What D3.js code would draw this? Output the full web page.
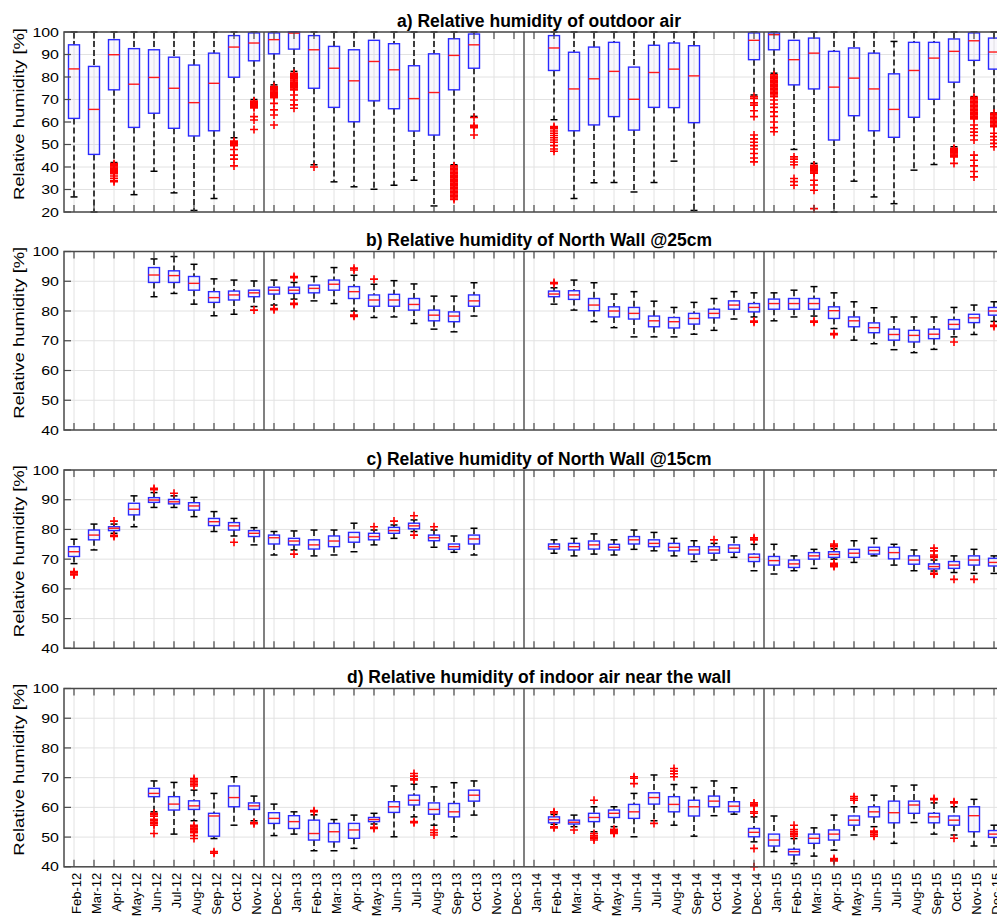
<!DOCTYPE html>
<html><head><meta charset="utf-8">
<script src="https://cdn.jsdelivr.net/npm/d3@7"></script>
<style>body{margin:0;background:#fff} svg{display:block} text{font-family:"Liberation Sans",Arial,Helvetica,sans-serif;fill:#000}</style>
</head><body><svg id="chart" width="997" height="923"></svg>
<script>
// ---------- categories & tick labels ----------
const months = ["Feb-12","Mar-12","Apr-12","May-12","Jun-12","Jul-12","Aug-12","Sep-12","Oct-12","Nov-12","Dec-12",
  "Jan-13","Feb-13","Mar-13","Apr-13","May-13","Jun-13","Jul-13","Aug-13","Sep-13","Oct-13","Nov-13","Dec-13",
  "Jan-14","Feb-14","Mar-14","Apr-14","May-14","Jun-14","Jul-14","Aug-14","Sep-14","Oct-14","Nov-14","Dec-14",
  "Jan-15","Feb-15","Mar-15","Apr-15","May-15","Jun-15","Jul-15","Aug-15","Sep-15","Oct-15","Nov-15","Dec-15"];
const separators = ["Dec-12","Jan-14","Jan-15"];
const titles = ["a) Relative humidity of outdoor air","b) Relative humidity of North Wall @25cm",
  "c) Relative humidity of North Wall @15cm","d) Relative humidity of indoor air near the wall"];
const yLabel = "Relative humidity [%]";
const yTicksOutdoor = [20,30,40,50,60,70,80,90,100];
const yTicksWall = [40,50,60,70,80,90,100];

// ---------- series: [lower whisker, Q1, median, Q3, upper whisker] ----------
const outdoorStats = {
 "Feb-12":[26.7,61.6,83.6,94.3,100],"Mar-12":[20,45.6,65.6,84.7,100],"Apr-12":[42,74.3,89.9,96.6,100],
 "May-12":[27.7,57.6,76.8,92.6,100],"Jun-12":[38.1,63.9,79.8,92.1,100],"Jul-12":[28.5,57.2,75.0,88.8,100],
 "Aug-12":[20.7,53.8,68.6,85.3,100],"Sep-12":[26.0,56.1,77.2,90.6,100],"Oct-12":[53,79.9,93.3,98.4,100],
 "Nov-12":[70,87.2,95.1,99.6,100],"Dec-12":[76.5,90.3,96.6,99.6,100],"Jan-13":[82.5,92.4,99.5,100,100],
 "Feb-13":[41,75.0,92.1,98.4,100],"Mar-13":[33.4,66.5,83.9,93.6,100],"Apr-13":[31.2,60.1,78.3,92.1,100],
 "May-13":[30.1,69.4,86.9,96.3,100],"Jun-13":[31.9,65.9,83.2,94.8,100],"Jul-13":[34.1,56.0,70.4,85.0,100],
 "Aug-13":[22.7,54.2,73.1,90.3,100],"Sep-13":[41,74.3,89.6,97.0,100],"Oct-13":[62.5,83.9,94.3,99.1,100],
 "Feb-14":[61,82.9,92.9,98.4,100],"Mar-14":[26,56.1,74.7,91.0,100],"Apr-14":[33,58.7,79.2,93.3,100],
 "May-14":[33.1,62.4,82.5,95.4,100],"Jun-14":[28.9,56.4,70.1,84.4,100],"Jul-14":[33.1,66.5,82.0,94.1,100],
 "Aug-14":[42.6,66.4,83.5,95.1,100],"Sep-14":[20.7,59.7,80.5,93.9,100],"Dec-14":[72,87.7,96.3,99.6,100],
 "Jan-15":[81.7,92.1,98.8,99.6,100],"Feb-15":[47.8,76.5,87.7,96.3,100],"Mar-15":[41.6,74.7,90.6,97.3,100],
 "Apr-15":[20,52.0,75.5,91.4,100],"May-15":[33.7,62.8,79.5,92.9,100],"Jun-15":[26.7,56.1,74.7,90.6,100],
 "Jul-15":[23.7,53.2,65.6,81.4,95.8],"Aug-15":[38.6,62.1,82.9,95.4,100],"Sep-15":[41.1,70.1,88.4,95.4,100],
 "Oct-15":[49,77.7,91.4,96.9,100],"Nov-15":[71.3,87.4,96.1,99.6,100],"Dec-15":[64,83.5,91.1,97.3,100]
};
const outdoorOutliers = {
 "Apr-12":[41.5,41,40.5,40,39.5,39,38.5,38,37.5,37,36,35,34,33.5],
 "Oct-12":[51.5,51,50.5,50,49.5,47.8,45.3,43.5,40.5],
 "Nov-12":[69.3,68.8,68.3,67.8,67.3,66.8,66.3,62.4,60.9,56.7],
 "Dec-12":[75.8,75.3,74.8,74.3,73.8,73.3,72.8,72.3,71.8,71.3,70.8,68.3,65.4,63.1,58.7],
 "Jan-13":[81.7,81.2,80.7,80.2,79.7,79.2,78.7,78.2,77.7,77.2,76.7,76.2,75.7,75.2,74.7,74.3,72.0,69.8,67.6,66.1],
 "Feb-13":[40],
 "Sep-13":[40.5,40,39.4,38.8,38.2,37.6,37,36.4,35.8,35.2,34.6,34,33.4,32.8,32.2,31.6,31,30.4,29.8,29.2,28.6,28,27.4,26.8,26.2,25.6],
 "Oct-13":[62,58.5,58,57.5,54.2],
 "Feb-14":[58,57.5,57,56,55,54,53,52,51,49.5,48,47],
 "Dec-14":[71.3,70.5,68.5,67.5,65,62.4,54.2,52.5,51,49.5,48,46,44,42.3],
 "Jan-15":[81,80.4,79.8,79.2,78.6,78,77.4,76.8,76.2,75.6,75,74.4,73.8,73.2,72.6,72,71.3,69.8,68,66.5,64.5,62.5,60,57.5,55.7],
 "Feb-15":[44.5,43.5,42.2,41,34.9,33.5,31.9],
 "Mar-15":[40.8,40.3,39.8,39.3,38.8,38.3,37.8,37.3,34.1,32,29.7,21.5],
 "Oct-15":[48.3,47.8,47.3,46.8,46.3,45.8,45.3,44.5,41.6],
 "Nov-15":[71,70.4,69.8,69.2,68.6,68,67.4,66.8,66.2,65.6,65,64.4,63.8,63.2,62.6,62,61.4,58.7,57,55.5,54,52,45.3,43,40.5,38,35.6],
 "Dec-15":[63.9,63.3,62.7,62.1,61.5,60.9,60.3,59.7,59.1,58.5,57.9,55,53.5,52,50.5,49]
};

const wall25Stats = {
 "Jun-12":[84.8,89.6,92.1,94.6,97.5],"Jul-12":[85.9,89.6,91.9,93.5,98.3],"Aug-12":[82.3,87.0,89.3,91.6,95.7],
 "Sep-12":[78.4,82.9,84.5,86.5,90.8],"Oct-12":[78.9,83.7,85.4,86.7,90.4],"Nov-12":[81.5,84.8,86.1,87.0,90.1],
 "Dec-12":[82,85.7,87.0,88.0,90.4],"Jan-13":[84,85.9,87.0,88.0,89.6],"Feb-13":[83.4,86.1,87.6,88.7,91.6],
 "Mar-13":[82.5,87.0,89.0,90.4,94.6],"Apr-13":[80,84.2,86.5,88.2,92],"May-13":[77.8,81.6,83.7,85.4,89],
 "Jun-13":[78.0,81.6,83.7,85.6,90.2],"Jul-13":[75.8,80.3,82.2,84.2,89.1],"Aug-13":[73.9,76.7,78.6,80.3,85.0],
 "Sep-13":[73.0,76.4,78.3,79.7,85.0],"Oct-13":[78.3,81.6,83.4,85.4,89.5],
 "Feb-14":[82.3,84.8,85.7,86.7,87.8],"Mar-14":[80.3,83.9,85.4,86.8,90.4],"Apr-14":[76.4,80.1,82.0,84.2,89.5],
 "May-14":[74.4,78.0,80.0,81.4,85.7],"Jun-14":[71.3,77.3,79.2,81.2,86.5],"Jul-14":[71.3,74.7,76.7,78.3,83.3],
 "Aug-14":[71.3,74.3,76.4,77.8,81.2],"Sep-14":[72.2,75.6,77.5,79.2,82.9],"Oct-14":[73.5,77.7,79.2,80.6,84.2],
 "Nov-14":[77.3,80.6,82.0,83.4,86.5],"Dec-14":[78.0,79.7,81.2,82.5,86.1],"Jan-15":[76.7,80.6,82.5,84.0,86.1],
 "Feb-15":[78.0,80.6,82.5,84.2,87.0],"Mar-15":[78.3,80.6,82.5,84.2,88.2],"Apr-15":[74.1,77.5,80.1,81.4,86.1],
 "May-15":[70.2,74.7,76.7,78.0,83.1],"Jun-15":[69.0,72.7,74.4,76.0,81.1],"Jul-15":[67.0,70.2,72.1,73.9,78.0],
 "Aug-15":[66.0,69.6,71.8,73.5,78.0],"Sep-15":[67.1,70.7,72.2,73.9,78.0],"Oct-15":[71.3,73.9,75.5,77.1,81.2],
 "Nov-15":[72.1,76.1,77.7,78.9,82.0],"Dec-15":[76.5,78.6,80.0,81.2,83.1]
};
const wall25Outliers = {
 "Nov-12":[80.3],"Dec-12":[80.8,80.4],"Jan-13":[91.6,91.2,82.6,82.2],"Apr-13":[94.4,93.8,78.6,78.2],
 "May-13":[90.7],"Feb-14":[89.6,89.2],"Dec-14":[76.6,76.2],"Mar-15":[76.6,76.2],"Apr-15":[72.4,72.0],
 "Oct-15":[69.6],"Dec-15":[75.2,74.8]
};

const wall15Stats = {
 "Feb-12":[68.5,70.9,72.5,74.2,76.7],"Mar-12":[73.1,76.5,78.1,79.8,81.8],"Apr-12":[78.7,79.6,80.4,80.9,81.8],
 "May-12":[80.9,84.9,86.8,88.8,91.3],"Jun-12":[87.4,89.1,89.9,90.7,92.4],"Jul-12":[87.4,88.6,89.3,90.1,91.3],
 "Aug-12":[84.3,86.5,87.9,89.0,90.8],"Sep-12":[79.3,81.3,82.6,83.7,86.0],"Oct-12":[77.8,79.8,81.2,82.3,83.7],
 "Nov-12":[74.8,77.6,78.7,79.6,80.6],"Dec-12":[71.4,75.1,77.2,78.1,79.3],"Jan-13":[73.1,74.8,76.1,77.0,79.5],
 "Feb-13":[71.1,73.4,74.8,76.5,79.8],"Mar-13":[71.4,74.2,76.1,77.8,79.8],"Apr-13":[72.5,75.7,77.4,79.0,82.1],
 "May-13":[74.8,76.5,77.6,78.7,79.8],"Jun-13":[77.0,78.7,79.6,80.7,81.5],"Jul-13":[79.3,80.2,81.2,82.1,83.2],
 "Aug-13":[74.0,76.2,77.2,78.1,79.8],"Sep-13":[72.3,73.3,74.2,75.1,77.8],"Oct-13":[71.4,75.1,76.8,78.1,80.4],
 "Feb-14":[72.0,73.4,74.2,75.1,76.5],"Mar-14":[71.1,73.1,74.2,75.3,77.0],"Apr-14":[71.7,73.4,74.8,76.1,78.5],
 "May-14":[71.4,73.1,74.0,75.0,76.5],"Jun-14":[73.3,75.1,76.5,77.6,79.8],"Jul-14":[72.8,74.2,75.3,76.5,79.0],
 "Aug-14":[71.1,72.8,74.0,75.3,77.0],"Sep-14":[69.2,71.7,73.1,74.2,76.2],"Oct-14":[69.7,72.0,73.1,74.2,75.3],
 "Nov-14":[70.6,72.3,73.7,74.8,77.4],"Dec-14":[66.1,69.2,70.6,71.7,75.0],"Jan-15":[65.0,68.0,69.5,70.9,75.0],
 "Feb-15":[66.1,67.2,68.4,69.7,71.1],"Mar-15":[66.9,70.0,71.1,72.2,73.3],"Apr-15":[70.0,70.6,71.6,72.5,73.5],
 "May-15":[68.9,70.6,72.0,73.3,76.2],"Jun-15":[71.1,71.7,72.9,74.0,77.0],"Jul-15":[68.0,70.1,72.2,74.0,75.0],
 "Aug-15":[66.1,68.3,69.7,71.1,73.1],"Sep-15":[66.0,66.7,67.5,68.4,69.7],"Oct-15":[65.5,66.9,68.0,69.2,71.1],
 "Nov-15":[65.2,68.0,69.7,71.1,73.3],"Dec-15":[65.2,67.7,68.9,70.3,71.1]
};
const wall15Outliers = {
 "Feb-12":[65.8,65.4,65,64.7],"Apr-12":[82.8,78,77.6],"Jun-12":[93.8,93.4],"Jul-12":[92.2],"Oct-12":[75.7],
 "Jan-13":[71.7],"May-13":[80.9],"Jun-13":[82.8],"Jul-13":[84.6,78.1],"Aug-13":[80.9],"Oct-14":[76.5],
 "Dec-14":[77.2,76.8,76.5],"Apr-15":[75.1,74.7,74.2,68.6,68.2,67.8,67.5],
 "Sep-15":[73.7,72.8,71.4,71.0,70.6,65.2,64.9],"Oct-15":[63.2],"Nov-15":[63.2]
};

const indoorStats = {
 "Jun-12":[58.5,63.6,64.7,66.4,68.9],"Jul-12":[51.0,59.1,61.1,63.6,68.4],"Aug-12":[55.5,59.3,60.5,62.2,65.8],
 "Sep-12":[49.5,50.3,57.1,58.0,64.7],"Oct-12":[54,60.2,63.3,67.2,70.3],"Nov-12":[55.5,59.3,60.5,61.5,63.8],
 "Dec-12":[50.5,54.6,56.3,58.2,61.1],"Jan-13":[51.0,52.9,55.2,57.2,58.5],"Feb-13":[45.4,49.0,51.2,55.7,57.5],
 "Mar-13":[45.4,48.4,51.8,54.6,55.9],"Apr-13":[46.2,49.6,52.4,54.6,57.4],"May-13":[54.4,55.2,55.9,56.6,58.0],
 "Jun-13":[50.1,58.3,60.2,61.9,67.2],"Jul-13":[56.8,60.8,62.4,64.1,67.8],"Aug-13":[54.0,57.7,59.3,61.5,66.9],
 "Sep-13":[50.1,56.8,58.5,61.3,68.3],"Oct-13":[57.4,62.1,64.1,65.8,68.9],
 "Feb-14":[54.3,54.8,55.9,56.8,57.6],"Mar-14":[53.5,54.4,55.0,55.7,57.4],"Apr-14":[51.8,55.2,56.6,58.0,60.2],
 "May-14":[53.5,56.6,58.0,59.1,60.2],"Jun-14":[50.1,56.3,58.5,61.0,64.7],"Jul-14":[55.5,61.1,63.3,64.9,70.9],
 "Aug-14":[54.0,58.5,61.0,63.6,67.7],"Sep-14":[50.3,57.1,60.2,62.4,66.7],"Oct-14":[57.2,60.2,62.1,63.8,68.9],
 "Nov-14":[57.7,58.5,60.4,61.9,66.6],"Dec-14":[48.4,50.1,51.6,52.9,56.8],"Jan-15":[45.1,47.0,49.0,51.0,57.1],
 "Feb-15":[41.1,44.0,45.1,45.9,49.5],"Mar-15":[43.6,47.9,49.6,51.0,53.1],"Apr-15":[45.6,49.0,51.0,52.4,57.4],
 "May-15":[50.7,54.0,55.7,57.1,60.2],"Jun-15":[53.5,56.8,58.5,60.2,64.1],"Jul-15":[47.9,54.8,58.2,62.1,67.2],
 "Aug-15":[54.9,58.0,60.8,62.1,67.5],"Sep-15":[51.0,54.8,56.8,58.0,61.5],"Oct-15":[50.7,54.0,55.7,57.1,60.2],
 "Nov-15":[47.0,51.8,57.2,60.2,62.7],"Dec-15":[47.0,49.9,51.0,52.2,54.0]
};
const indoorOutliers = {
 "Jun-12":[58,57.5,57,56,55.5,55,54.5,54,51.2],
 "Aug-12":[69.7,69.2,68.7,68.2,67.7,67.2,54,53.5,53,52.5,52,51.5,50.5,49.5],
 "Sep-12":[45.1,44.6],"Nov-12":[54.9,54.5],"Feb-13":[58.9,58.5],"May-13":[53.3,52.9],
 "Jul-13":[71.4,70.5,69.6,69.2,55.2,54.8],"Aug-13":[52.4,51.5,50.7],
 "Feb-14":[58.5,58.1,53.5,53.1],"Mar-14":[52.4],"Apr-14":[62.4,51.2,50.5,50,49.5,49.0],
 "May-14":[52.6,52.2,51.8,51.4,51.2],"Jun-14":[70.3,69.8,68.0],"Jul-14":[54.6],"Aug-14":[73.1,72.2,71.3,70.3],
 "Dec-14":[61.5,61,60.5,58.5,58,46.2,40],"Feb-15":[54.0,52.5,51.8,51.3,50.8,50.3],"Apr-15":[42.8,42.4,42.0],
 "May-15":[63.6,63.0,62.4],"Jun-15":[52.0,51.4,50.8,50.3],"Sep-15":[63.0,62.6],"Oct-15":[61.9,61.5,49.6]
};

// ---------- drawing ----------
const svg = d3.select("#chart");
const W = 997, H = 923;
const plotLeft = 64, bandRight = 1004, frameRight = 1014;
const panelGeom = [{top:32,h:180},{top:251.5,h:178.5},{top:470,h:178.3},{top:688.5,h:178.3}];
const panels = [
  {title:titles[0], domain:[20,100], ticks:yTicksOutdoor, stats:outdoorStats, out:outdoorOutliers},
  {title:titles[1], domain:[40,100], ticks:yTicksWall, stats:wall25Stats, out:wall25Outliers},
  {title:titles[2], domain:[40,100], ticks:yTicksWall, stats:wall15Stats, out:wall15Outliers},
  {title:titles[3], domain:[40,100], ticks:yTicksWall, stats:indoorStats, out:indoorOutliers}
];
svg.append("rect").attr("width",W).attr("height",H).attr("fill","#fff");

const x = d3.scaleBand().domain(months).range([plotLeft, bandRight]);
const xc = m => x(m) + x.bandwidth()/2;
const boxW = 11, capW = 7, tickLen = 7;
const axisColor = "#4a4a4a";

panels.forEach((p, pi) => {
  const g = panelGeom[pi];
  const top = g.top, bottom = g.top + g.h;
  const y = d3.scaleLinear().domain(p.domain).range([bottom, top]);
  const G = svg.append("g");

  // grid
  G.selectAll(".hg").data(p.ticks).join("line")
    .attr("x1",plotLeft).attr("x2",frameRight).attr("y1",d=>y(d)).attr("y2",d=>y(d))
    .attr("stroke","#e2e2e2").attr("stroke-width",1);
  G.selectAll(".vg").data(months).join("line")
    .attr("x1",d=>xc(d)).attr("x2",d=>xc(d)).attr("y1",top).attr("y2",bottom)
    .attr("stroke","#e2e2e2").attr("stroke-width",1);

  // separators
  G.selectAll(".sep").data(separators).join("line")
    .attr("x1",d=>x(d)).attr("x2",d=>x(d)).attr("y1",top).attr("y2",bottom)
    .attr("stroke","#808080").attr("stroke-width",2);

  const entries = months.filter(m => p.stats[m]).map(m => ({m, s:p.stats[m]}));

  // whiskers
  const wg = G.append("g");
  entries.forEach(({m,s}) => {
    const cx = xc(m);
    wg.append("line").attr("x1",cx).attr("x2",cx).attr("y1",y(s[4])).attr("y2",y(s[3]))
      .attr("stroke","#000").attr("stroke-width",1.5).attr("stroke-dasharray","6,3");
    wg.append("line").attr("x1",cx).attr("x2",cx).attr("y1",y(s[1])).attr("y2",y(s[0]))
      .attr("stroke","#000").attr("stroke-width",1.5).attr("stroke-dasharray","6,3");
    [s[0], s[4]].forEach(v => {
      wg.append("line").attr("x1",cx-capW/2).attr("x2",cx+capW/2).attr("y1",y(v)).attr("y2",y(v))
        .attr("stroke","#000").attr("stroke-width",1.5);
    });
  });

  // boxes
  G.selectAll(".box").data(entries).join("rect")
    .attr("x",d=>xc(d.m)-boxW/2).attr("width",boxW)
    .attr("y",d=>y(d.s[3])).attr("height",d=>Math.max(0.5,y(d.s[1])-y(d.s[3])))
    .attr("fill","#d6c3ee").attr("fill-opacity",0.14)
    .attr("stroke","#2a2aff").attr("stroke-width",1.4);
  G.selectAll(".med").data(entries).join("line")
    .attr("x1",d=>xc(d.m)-boxW/2).attr("x2",d=>xc(d.m)+boxW/2)
    .attr("y1",d=>y(d.s[2])).attr("y2",d=>y(d.s[2]))
    .attr("stroke","#ff1a1a").attr("stroke-width",1.4);

  // outliers
  const outs = [];
  months.forEach(m => (p.out[m] || []).forEach(v => outs.push({m, v})));
  G.selectAll(".out").data(outs).join("path")
    .attr("d",d=>{const cx=xc(d.m), cy=y(d.v); return `M${cx-4},${cy}H${cx+4}M${cx},${cy-4}V${cy+4}`;})
    .attr("stroke","#ff0000").attr("stroke-width",1.6).attr("fill","none");

  // frame
  G.append("rect").attr("x",plotLeft).attr("y",top).attr("width",frameRight-plotLeft).attr("height",g.h)
    .attr("fill","none").attr("stroke",axisColor).attr("stroke-width",1.5);

  // month ticks (top & bottom, inward)
  G.selectAll(".tt").data(months).join("line")
    .attr("x1",d=>xc(d)).attr("x2",d=>xc(d)).attr("y1",top).attr("y2",top+tickLen)
    .attr("stroke",axisColor).attr("stroke-width",1.2);
  G.selectAll(".tb").data(months).join("line")
    .attr("x1",d=>xc(d)).attr("x2",d=>xc(d)).attr("y1",bottom).attr("y2",bottom-tickLen)
    .attr("stroke",axisColor).attr("stroke-width",1.2);
  // y ticks (left & right, inward)
  G.selectAll(".yl").data(p.ticks).join("line")
    .attr("x1",plotLeft).attr("x2",plotLeft+tickLen).attr("y1",d=>y(d)).attr("y2",d=>y(d))
    .attr("stroke",axisColor).attr("stroke-width",1.2);
  G.selectAll(".yr").data(p.ticks).join("line")
    .attr("x1",frameRight).attr("x2",frameRight-tickLen).attr("y1",d=>y(d)).attr("y2",d=>y(d))
    .attr("stroke",axisColor).attr("stroke-width",1.2);

  // y tick labels
  G.selectAll(".ytl").data(p.ticks).join("text")
    .attr("transform",d=>`translate(59,${y(d)}) scale(1.33,1)`)
    .attr("text-anchor","end").attr("dy","0.38em")
    .style("font-size","12px").text(d=>d);

  // y label
  G.append("text")
    .attr("transform",`translate(24,${(top+bottom)/2 - 8}) rotate(-90)`)
    .attr("text-anchor","middle").attr("textLength",172).attr("lengthAdjust","spacingAndGlyphs")
    .style("font-size","15px").text(yLabel);

  // title
  G.append("text").attr("x",(plotLeft+frameRight)/2).attr("y",top-5.5)
    .attr("text-anchor","middle").style("font-size","17.5px").style("font-weight","bold")
    .text(p.title);

  // x labels on the last panel
  if (pi === panels.length - 1) {
    G.selectAll(".xl").data(months).join("text")
      .attr("transform",d=>`translate(${xc(d)},${bottom+6}) rotate(-90)`)
      .attr("text-anchor","end").attr("dy","0.5em")
      .style("font-size","13px").text(d=>d);
  }
});
</script>
</body></html>
